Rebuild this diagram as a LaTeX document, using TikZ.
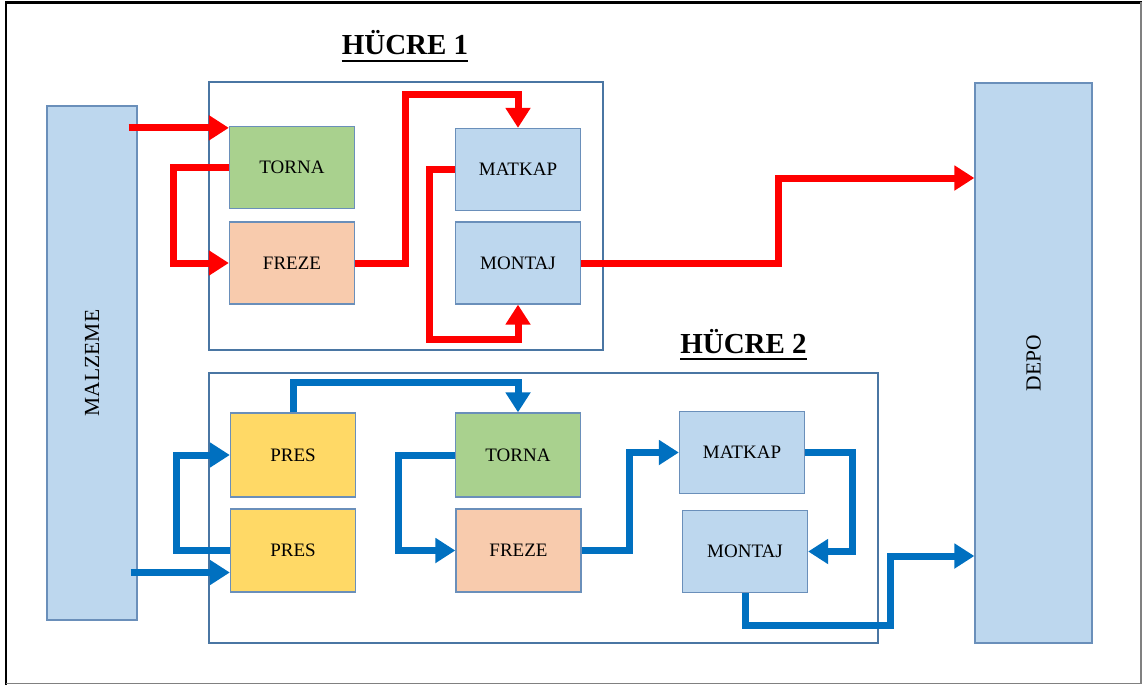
\documentclass[tikz,border=0pt]{standalone}
\usepackage{fontspec}
\setmainfont{Liberation Serif}
\usepackage{graphicx}
\usetikzlibrary{arrows.meta}

\definecolor{kutumavi}{HTML}{BDD7EE}
\definecolor{kutuyesil}{HTML}{A9D18E}
\definecolor{kututuruncu}{HTML}{F8CBAD}
\definecolor{kutusari}{HTML}{FFD966}
\definecolor{kenar}{HTML}{6A8FBA}
\definecolor{hucrekenar}{HTML}{4A76A3}
\definecolor{okkirmizi}{HTML}{FF0000}
\definecolor{okmavi}{HTML}{0070C0}

\tikzset{
  istasyon/.style={draw=kenar, line width=1.3pt, minimum width=125pt, minimum height=82pt,
    inner sep=0pt, font=\fontsize{19}{23}\selectfont},
  depolama/.style={istasyon, fill=kutumavi, font=\fontsize{21.5}{25}\selectfont},
  hucre/.style={draw=hucrekenar, line width=2.4pt, inner sep=0pt},
  baslik/.style={inner sep=0pt, anchor=base, font=\bfseries\fontsize{29}{34}\selectfont},
  kirmiziok/.style={draw=okkirmizi, line width=7pt, -{Triangle[length=20pt,width=24pt]}},
  maviok/.style={draw=okmavi, line width=7pt, -{Triangle[length=20pt,width=24pt]}},
}

\begin{document}
\begin{tikzpicture}[x=1pt, y=-1pt]
 \useasboundingbox (0,0) rectangle (1142,685);

 % cerceve
 \draw[line width=2.5pt] (6,685) -- (6,2.5) -- (1142,2.5);
 \draw[gray, line width=1.5pt] (6,683.5) -- (1141,683.5) -- (1141,2.5);

 % hucreler
 \node[hucre, minimum width=394pt, minimum height=268pt] (hucre1) at (406,216) {};
 \node[hucre, minimum width=669pt, minimum height=270pt] (hucre2) at (543.5,508) {};
 \node[baslik] (baslik1) at (405,55) {HÜCRE 1};
 \node[baslik] (baslik2) at (743.5,353) {HÜCRE 2};
 \draw[line width=2pt] ([yshift=-6pt]baslik1.base west) -- ([yshift=-6pt]baslik1.base east);
 \draw[line width=2pt] ([yshift=-6pt]baslik2.base west) -- ([yshift=-6pt]baslik2.base east);

 % malzeme ve depo
 \node[depolama, minimum width=90pt, minimum height=514pt] (malzeme) at (92,363) {\rotatebox{90}{MALZEME}};
 \node[depolama, minimum width=117pt, minimum height=560pt] (depo) at (1033.5,363) {\rotatebox{90}{DEPO}};

 % hucre 1 tezgahlari
 \node[istasyon, fill=kutuyesil] (torna1) at (292,167.5) {TORNA};
 \node[istasyon, fill=kututuruncu] (freze1) at (292,263) {FREZE};
 \node[istasyon, fill=kutumavi] (matkap1) at (518,169.5) {MATKAP};
 \node[istasyon, fill=kutumavi] (montaj1) at (518,263) {MONTAJ};

 % hucre 2 tezgahlari
 \node[istasyon, fill=kutusari, minimum height=84pt] (pres1) at (293,455) {PRES};
 \node[istasyon, fill=kutusari, minimum height=83pt] (pres2) at (293,550.5) {PRES};
 \node[istasyon, fill=kutuyesil, minimum height=84pt] (torna2) at (518,455) {TORNA};
 \node[istasyon, fill=kututuruncu, minimum height=83pt] (freze2) at (518.5,550.5) {FREZE};
 \node[istasyon, fill=kutumavi] (matkap2) at (742,452.5) {MATKAP};
 \node[istasyon, fill=kutumavi] (montaj2) at (745,551.5) {MONTAJ};

 % hucre 1 akisi
 \coordinate (giris1) at ([yshift=-2pt]torna1.north west);
 \draw[kirmiziok] ([xshift=-9pt]malzeme.east |- giris1) -- (giris1);
 \draw[kirmiziok] (torna1.west) -- ++(-55,0) |- (freze1.west);
 \draw[kirmiziok] (freze1.east) -- ++(50,0) |- ([yshift=33pt]matkap1.north) -- (matkap1.north);
 \draw[kirmiziok] (matkap1.west) -- ++(-25,0) |- ([yshift=-35pt]montaj1.south) -- (montaj1.south);
 \draw[kirmiziok] (montaj1.east) -- ++(197,0) |- ([yshift=185pt]depo.west);

 % hucre 2 akisi
 \coordinate (giris2) at ([yshift=-22pt]pres2.west);
 \draw[maviok] ([xshift=-7pt]malzeme.east |- giris2) -- (giris2);
 \draw[maviok] (pres2.west) -- ++(-53,0) |- (pres1.west);
 \draw[maviok] (pres1.north) |- ([yshift=30pt]torna2.north) -- (torna2.north);
 \draw[maviok] (torna2.west) -- ++(-56,0) |- (freze2.west);
 \draw[maviok] (freze2.east) -- ++(48,0) |- (matkap2.west);
 \draw[maviok] (matkap2.east) -- ++(47,0) |- (montaj2.east);
 \draw[maviok] (montaj2.south) -- ++(0,32) -- ++(145,0) |- ([yshift=-193pt]depo.west);
\end{tikzpicture}
\end{document}
